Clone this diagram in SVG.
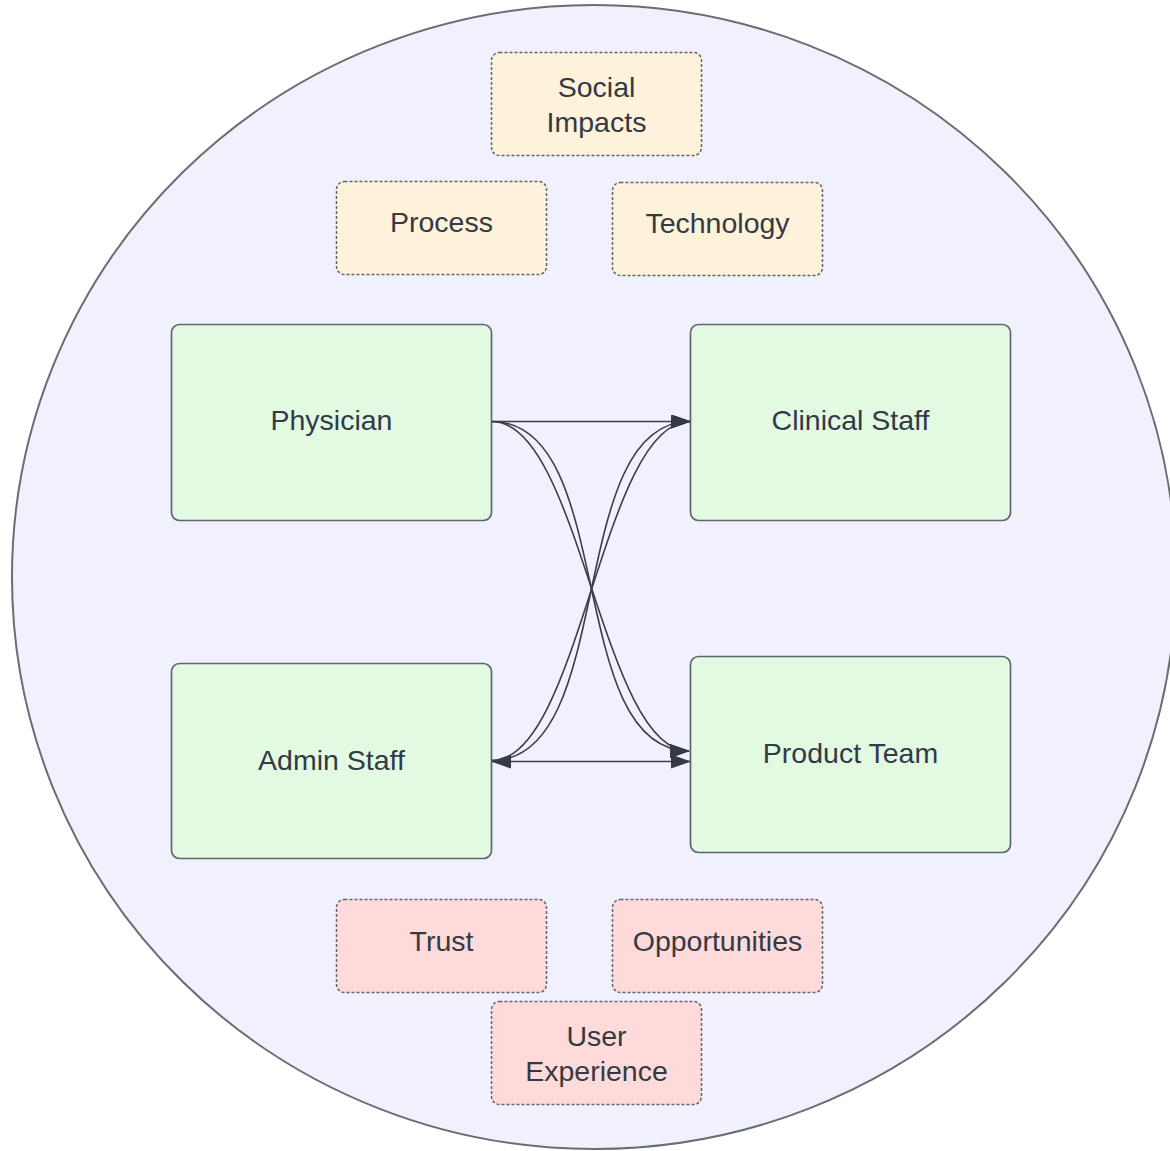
<svg xmlns="http://www.w3.org/2000/svg" width="1170" height="1151" viewBox="0 0 1170 1151">
  <defs>
    <marker id="arrow" viewBox="0 0 20 14" refX="19" refY="7" markerWidth="20" markerHeight="14" markerUnits="userSpaceOnUse" orient="auto-start-reverse">
      <path d="M0,0 L20,7 L0,14 Z" fill="#333a45"/>
    </marker>
    <style>
      .frame { fill: #f1f1fd; stroke: #6a6d72; stroke-width: 2; }
      .role { fill: #e2f9e2; stroke: #62656b; stroke-width: 1.7; }
      .topic { fill: #fff2da; stroke: #62656b; stroke-width: 1.5; stroke-dasharray: 3 2; }
      .concern { fill: #ffdada; stroke: #62656b; stroke-width: 1.5; stroke-dasharray: 3 2; }
      .label { font-family: "Liberation Sans", Arial, sans-serif; font-size: 28.5px; fill: #333a45; text-anchor: middle; }
      .link { fill: none; stroke: #3a3e46; stroke-width: 1.6; }
    </style>
  </defs>

  <rect width="1170" height="1151" fill="#ffffff"/>

  <!-- enclosing ecosystem -->
  <g id="ecosystem">
    <ellipse class="frame" cx="594" cy="577" rx="582" ry="572"/>
  </g>

  <!-- themes above -->
  <g id="social-impacts">
    <rect class="topic" x="491.5" y="52.5" width="210" height="103" rx="8"/>
    <text class="label" x="596.5" y="97">Social</text>
    <text class="label" x="596.5" y="132">Impacts</text>
  </g>
  <g id="process">
    <rect class="topic" x="336.5" y="181.5" width="210" height="93" rx="8"/>
    <text class="label" x="441.5" y="232">Process</text>
  </g>
  <g id="technology">
    <rect class="topic" x="612.5" y="182.5" width="210" height="93" rx="8"/>
    <text class="label" x="717.5" y="233">Technology</text>
  </g>

  <!-- stakeholders -->
  <g id="physician">
    <rect class="role" x="171.5" y="324.5" width="320" height="196" rx="8"/>
    <text class="label" x="331.5" y="430">Physician</text>
  </g>
  <g id="clinical-staff">
    <rect class="role" x="690.5" y="324.5" width="320" height="196" rx="8"/>
    <text class="label" x="850.5" y="430">Clinical Staff</text>
  </g>
  <g id="admin-staff">
    <rect class="role" x="171.5" y="663.5" width="320" height="195" rx="8"/>
    <text class="label" x="331.5" y="770">Admin Staff</text>
  </g>
  <g id="product-team">
    <rect class="role" x="690.5" y="656.5" width="320" height="196" rx="8"/>
    <text class="label" x="850.5" y="763">Product Team</text>
  </g>

  <!-- themes below -->
  <g id="trust">
    <rect class="concern" x="336.5" y="899.5" width="210" height="93" rx="8"/>
    <text class="label" x="441.5" y="951">Trust</text>
  </g>
  <g id="opportunities">
    <rect class="concern" x="612.5" y="899.5" width="210" height="93" rx="8"/>
    <text class="label" x="717.5" y="951">Opportunities</text>
  </g>
  <g id="user-experience">
    <rect class="concern" x="491.5" y="1001.5" width="210" height="103" rx="8"/>
    <text class="label" x="596.5" y="1046">User</text>
    <text class="label" x="596.5" y="1081">Experience</text>
  </g>

  <!-- connectors between stakeholders -->
  <g id="connectors">
    <path class="link" d="M492,421.5 L690,421.5" marker-end="url(#arrow)"/>
    <path class="link" d="M492,761.5 L690,761.5" marker-start="url(#arrow)" marker-end="url(#arrow)"/>
    <path class="link" d="M492,421.5 C580,421.5 602,751 689,751" marker-end="url(#arrow)"/>
    <path class="link" d="M492,421.5 C618,421.5 564,751 689,751" marker-end="url(#arrow)"/>
    <path class="link" d="M492,760.5 C580,760.5 602,421.5 690,421.5" marker-end="url(#arrow)"/>
    <path class="link" d="M492,760.5 C618,760.5 564,421.5 690,421.5" marker-end="url(#arrow)"/>
  </g>
</svg>
